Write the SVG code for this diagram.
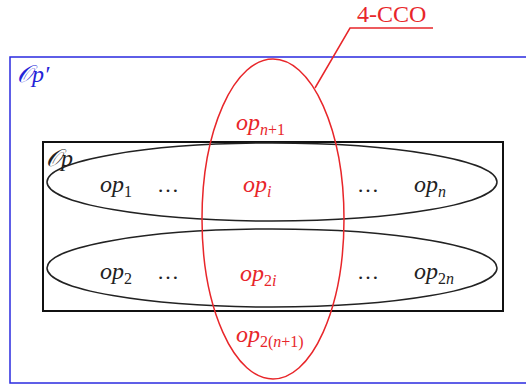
<svg xmlns="http://www.w3.org/2000/svg" width="526" height="385" viewBox="0 0 526 385">
<style>
.t{font-family:"Liberation Serif","DejaVu Serif",serif;font-style:italic;font-size:24px}
.s{font-size:16px}
.d{font-family:"Liberation Serif",serif;font-size:22px;fill:#222}
.blk{fill:#222}
.red{fill:#e8262a}
.blue{fill:#2323d8}
</style>
<rect width="526" height="385" fill="#fff"/>
<g id="outer">
<rect x="10" y="57" width="530" height="326" fill="none" stroke="#2a2ae0" stroke-width="1.5"/>
<text class="t blue" x="17" y="82">𝒪p′</text>
</g>
<g id="inner">
<rect x="43" y="142" width="460" height="169" fill="none" stroke="#111" stroke-width="2"/>
<text class="t blk" x="46" y="166">𝒪p</text>
</g>
<g id="row1">
<ellipse cx="272" cy="182" rx="225" ry="39" fill="none" stroke="#222" stroke-width="1.5"/>
<text class="t blk" x="100" y="192">op<tspan class="s" dy="5" font-style="normal">1</tspan></text>
<text class="d" x="157" y="192" letter-spacing="3">…</text>
<text class="d" x="357" y="192" letter-spacing="3">…</text>
<text class="t blk" x="414" y="192">op<tspan class="s" dy="5">n</tspan></text>
</g>
<g id="row2">
<ellipse cx="272" cy="268" rx="225" ry="39" fill="none" stroke="#222" stroke-width="1.5"/>
<text class="t blk" x="100" y="279">op<tspan class="s" dy="5" font-style="normal">2</tspan></text>
<text class="d" x="157" y="279">…</text>
<text class="d" x="357" y="279">…</text>
<text class="t blk" x="414" y="279">op<tspan class="s" dy="5"><tspan font-style="normal">2</tspan>n</tspan></text>
</g>
<g id="cco">
<ellipse cx="273" cy="219" rx="71" ry="160" fill="none" stroke="#e8262a" stroke-width="1.5"/>
<text class="t red" x="236" y="130">op<tspan class="s" dy="5">n<tspan font-style="normal">+1</tspan></tspan></text>
<text class="t red" x="243" y="192">op<tspan class="s" dy="5">i</tspan></text>
<text class="t red" x="240" y="281">op<tspan class="s" dy="5"><tspan font-style="normal">2</tspan>i</tspan></text>
<text class="t red" x="236" y="342">op<tspan class="s" dy="5"><tspan font-style="normal">2(</tspan>n<tspan font-style="normal">+1)</tspan></tspan></text>
<text x="357" y="22" font-family="Liberation Serif,serif" font-size="24" class="red">4-CCO</text>
</g>
<g id="connectors">
<polyline points="315,88 350,28 433,28" fill="none" stroke="#e8262a" stroke-width="1.5"/>
</g>
</svg>
